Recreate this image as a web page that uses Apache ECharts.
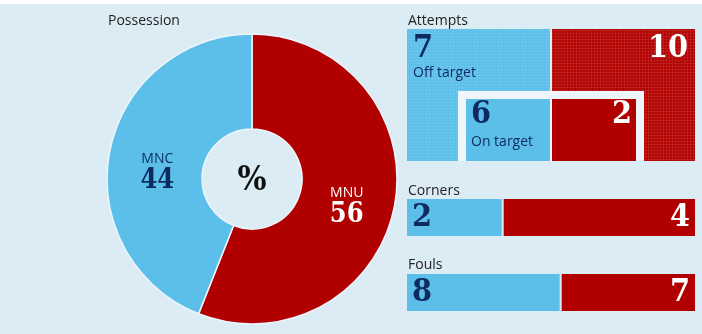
<!DOCTYPE html>
<html>
<head>
<meta charset="utf-8">
<script src="https://cdn.jsdelivr.net/npm/echarts@6/dist/echarts.min.js"></script>
<style>
  html, body { margin: 0; padding: 0; background: #ffffff; }
  #chart { width: 702px; height: 334px; }
</style>
</head>
<body>
<div id="chart"></div>
<script>
const teams = ["MNC", "MNU"];
const possession = [44, 56];
const offTarget = [7, 10];
const onTarget = [6, 2];
const corners = [2, 4];
const fouls = [8, 7];

const BLUE = "#5bbfea";
const RED = "#b00000";
const NAVY = "#0d2b5e";
const BG = "#dcecf5";
const numFamily = '"DejaVu Serif Condensed", "DejaVu Serif", serif';
const sansFamily = '"Open Sans", "Noto Sans", sans-serif';

// fine grid texture used on the off-target boxes
const makePattern = function(base, light) {
  const c = document.createElement("canvas");
  c.width = 3;
  c.height = 3;
  const g = c.getContext("2d");
  g.fillStyle = base;
  g.fillRect(0, 0, 3, 3);
  g.fillStyle = light;
  g.fillRect(0, 0, 3, 1);
  g.fillRect(0, 0, 1, 3);
  return { image: c, repeat: "repeat" };
};
const patterns = [makePattern(BLUE, "#6ac5ec"), makePattern(RED, "#bb1c1c")];

const chart = echarts.init(document.getElementById("chart"));

const heading = function(text, left, top) {
  return {
    text: text,
    left: left,
    top: top,
    padding: 0,
    textStyle: { fontFamily: sansFamily, fontSize: 14, fontWeight: "normal", color: "#222" }
  };
};

const barLabel = function(side) {
  return {
    show: true,
    position: side === 0 ? "insideLeft" : "insideRight",
    distance: 6,
    formatter: "{c}",
    fontFamily: numFamily,
    fontWeight: "bold",
    fontSize: 32,
    color: side === 0 ? NAVY : "#fff"
  };
};

const attemptsItem = function(params, api) {
  const i = api.value(0);
  const top = api.coord([i, 1]);
  const bottom = api.coord([i, 0]);
  const bw = api.size([1, 0])[0];
  const x0 = top[0] - bw / 2;
  const h = bottom[1] - top[1];
  const x = x0 + (i === 1 ? 1 : 0);
  const children = [
    { type: "rect", shape: { x: x, y: top[1], width: bw - 1, height: h }, style: { fill: patterns[i] } },
    {
      type: "text",
      x: i === 0 ? x + 6 : x + bw - 8,
      y: top[1] + 20,
      style: {
        text: String(api.value(1)),
        font: "bold 32px " + numFamily,
        fill: i === 0 ? NAVY : "#fff",
        align: i === 0 ? "left" : "right",
        verticalAlign: "middle"
      }
    }
  ];
  if (i === 0) {
    children.push({
      type: "text",
      x: x + 6,
      y: top[1] + 44,
      style: { text: "Off target", font: "14px " + sansFamily, fill: NAVY, align: "left", verticalAlign: "middle" }
    });
  }
  return { type: "group", children: children };
};

const onTargetItem = function(params, api) {
  const i = api.value(0);
  const bottom = api.coord([i, 0]);
  const bw = api.size([1, 0])[0];
  const mid = i === 0 ? bottom[0] + bw / 2 : bottom[0] - bw / 2;
  const w = 84, h = 62, frame = 8;
  const innerX = i === 0 ? mid - 1 - w : mid + 1;
  const frameX = i === 0 ? innerX - frame : mid;
  const children = [
    {
      type: "rect",
      shape: { x: frameX, y: bottom[1] - h - frame, width: w + frame + 1, height: h + frame },
      style: { fill: "#eef6fb" }
    },
    { type: "rect", shape: { x: innerX, y: bottom[1] - h, width: w, height: h }, style: { fill: i === 0 ? BLUE : RED } },
    {
      type: "text",
      x: i === 0 ? innerX + 5 : innerX + w - 4,
      y: bottom[1] - h + 16,
      style: {
        text: String(api.value(1)),
        font: "bold 32px " + numFamily,
        fill: i === 0 ? NAVY : "#fff",
        align: i === 0 ? "left" : "right",
        verticalAlign: "middle"
      }
    }
  ];
  if (i === 0) {
    children.push({
      type: "text",
      x: innerX + 5,
      y: bottom[1] - h + 43,
      style: { text: "On target", font: "14px " + sansFamily, fill: NAVY, align: "left", verticalAlign: "middle" }
    });
  }
  return { type: "group", children: children };
};

chart.setOption({
  backgroundColor: BG,
  animation: false,
  graphic: [
    { type: "rect", shape: { x: 0, y: 0, width: 702, height: 4 }, style: { fill: "#fff" } }
  ],
  title: [
    heading("Possession", 108, 14),
    heading("Attempts", 408, 14),
    heading("Corners", 408, 184),
    heading("Fouls", 408, 258),
    {
      text: "%",
      left: 252,
      top: 181,
      textAlign: "center",
      textVerticalAlign: "middle",
      padding: 0,
      textStyle: { fontFamily: numFamily, fontWeight: "bold", fontSize: 34, color: "#111" }
    }
  ],
  grid: [
    { left: 407, top: 29, width: 288, height: 132 },
    { left: 406, top: 198, width: 290, height: 39 },
    { left: 406, top: 273, width: 290, height: 39 }
  ],
  xAxis: [
    { gridIndex: 0, type: "category", data: teams, show: false },
    { gridIndex: 1, type: "value", min: 0, max: corners[0] + corners[1], show: false },
    { gridIndex: 2, type: "value", min: 0, max: fouls[0] + fouls[1], show: false }
  ],
  yAxis: [
    { gridIndex: 0, type: "value", min: 0, max: 1, show: false },
    { gridIndex: 1, type: "category", data: ["Corners"], show: false },
    { gridIndex: 2, type: "category", data: ["Fouls"], show: false }
  ],
  series: [
    {
      type: "pie",
      center: [252, 179],
      radius: [50, 145],
      startAngle: 90,
      clockwise: true,
      silent: true,
      itemStyle: { borderColor: "#eef6fb", borderWidth: 1.5 },
      labelLine: { show: false },
      label: {
        show: true,
        position: "inside",
        formatter: "{n|{b}}\n{v|{c}}",
        rich: {
          n: { fontFamily: sansFamily, fontSize: 14, lineHeight: 20 },
          v: { fontFamily: numFamily, fontWeight: "bold", fontSize: 27, lineHeight: 24 }
        }
      },
      data: [
        {
          name: teams[1],
          value: possession[1],
          itemStyle: { color: RED },
          label: { padding: [15, 8, 0, 0], rich: { n: { color: "#fff" }, v: { color: "#fff" } } }
        },
        {
          name: teams[0],
          value: possession[0],
          itemStyle: { color: BLUE },
          label: { padding: [22, 0, 0, 8], rich: { n: { color: NAVY }, v: { color: NAVY } } }
        }
      ]
    },
    {
      type: "custom",
      name: "Off target",
      xAxisIndex: 0,
      yAxisIndex: 0,
      renderItem: attemptsItem,
      data: offTarget.map(function(v, i) { return [i, v]; })
    },
    {
      type: "custom",
      name: "On target",
      xAxisIndex: 0,
      yAxisIndex: 0,
      renderItem: onTargetItem,
      data: onTarget.map(function(v, i) { return [i, v]; })
    },
    {
      type: "bar",
      name: teams[0],
      xAxisIndex: 1,
      yAxisIndex: 1,
      stack: "corners",
      barWidth: "100%",
      itemStyle: { color: BLUE, borderColor: BG, borderWidth: 1 },
      label: barLabel(0),
      data: [corners[0]]
    },
    {
      type: "bar",
      name: teams[1],
      xAxisIndex: 1,
      yAxisIndex: 1,
      stack: "corners",
      barWidth: "100%",
      itemStyle: { color: RED, borderColor: BG, borderWidth: 1 },
      label: barLabel(1),
      data: [corners[1]]
    },
    {
      type: "bar",
      name: teams[0],
      xAxisIndex: 2,
      yAxisIndex: 2,
      stack: "fouls",
      barWidth: "100%",
      itemStyle: { color: BLUE, borderColor: BG, borderWidth: 1 },
      label: barLabel(0),
      data: [fouls[0]]
    },
    {
      type: "bar",
      name: teams[1],
      xAxisIndex: 2,
      yAxisIndex: 2,
      stack: "fouls",
      barWidth: "100%",
      itemStyle: { color: RED, borderColor: BG, borderWidth: 1 },
      label: barLabel(1),
      data: [fouls[1]]
    }
  ]
});
</script>
</body>
</html>
